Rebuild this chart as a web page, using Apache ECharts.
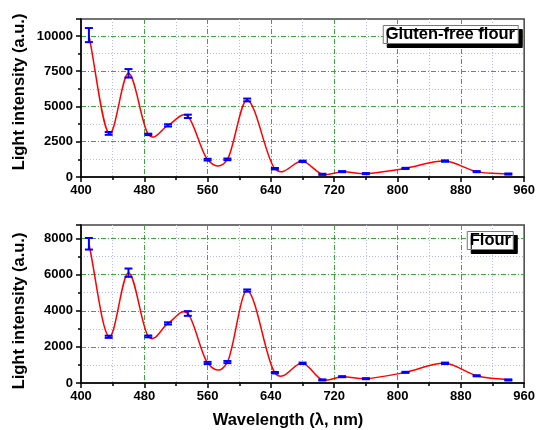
<!DOCTYPE html>
<html><head><meta charset="utf-8">
<script src="https://cdn.jsdelivr.net/npm/echarts@6/dist/echarts.min.js"></script>
<style>html,body{margin:0;padding:0;background:#fff}#c{width:538px;height:430px}</style>
</head><body><div id="c"></div>
<script>
var wavelengths = [410,435,460,485,510,535,560,585,610,645,680,705,730,760,810,860,900,940];
var glutenFreeMean = [10060,3090,7350,3020,3660,4300,1230,1250,5460,590,1110,190,380,240,610,1130,380,210];
var glutenFreeErr  = [500,100,300,50,80,120,60,60,100,50,50,40,40,40,40,50,40,40];
var flourMean = [7710,2560,6110,2580,3300,3850,1110,1160,5120,570,1090,170,350,240,590,1090,400,170];
var flourErr  = [320,60,230,50,60,130,60,60,60,40,40,30,30,30,30,40,30,30];
var xTicks = [400,480,560,640,720,800,880,960];
var yTicksTop = [0,2500,5000,7500,10000];
var yTicksBottom = [0,2000,4000,6000,8000];
var panelLabels = ['Gluten-free flour','Flour'];
var xTitle = 'Wavelength (\u03bb, nm)';
var yTitle = 'Light intensity (a.u.)';

var FONT = '"Liberation Sans", Arial, sans-serif';
var chart = echarts.init(document.getElementById('c'));

// Catmull-Rom style tangents (used only to shape the drawn curve between the data points)
function curveSlopes(xs, ys){
  var n = xs.length, m = [];
  for(var i=0;i<n;i++){
    if(i===0) m.push((ys[1]-ys[0])/(xs[1]-xs[0]));
    else if(i===n-1) m.push((ys[n-1]-ys[n-2])/(xs[n-1]-xs[n-2]));
    else m.push((ys[i+1]-ys[i-1])/(xs[i+1]-xs[i-1]));
  }
  return m;
}

function makeCurveRender(means){
  var slopes = curveSlopes(wavelengths, means);
  return function(params, api){
    var i = params.dataIndex;
    if(i >= wavelengths.length-1) return null;
    var x0=wavelengths[i], x1=wavelengths[i+1], y0=means[i], y1=means[i+1], h=x1-x0;
    var p0=api.coord([x0,y0]), p3=api.coord([x1,y1]);
    var p1=api.coord([x0+h/3, y0+h*slopes[i]/3]);
    var p2=api.coord([x1-h/3, y1-h*slopes[i+1]/3]);
    return {type:'bezierCurve', shape:{x1:p0[0],y1:p0[1],x2:p3[0],y2:p3[1],cpx1:p1[0],cpy1:p1[1],cpx2:p2[0],cpy2:p2[1]},
      style:{stroke:'#ff0000', lineWidth:1.5, fill:null}};
  };
}

function lineData(means){ return wavelengths.map(function(w,i){return [w, means[i]];}); }
function errData(means, errs){ return wavelengths.map(function(w,i){return [w, means[i]-errs[i], means[i]+errs[i]];}); }

function errRender(params, api){
  var x = api.value(0), lo = api.value(1), hi = api.value(2);
  var pLo = api.coord([x, lo]), pHi = api.coord([x, hi]);
  var hw = 4;
  var st = {stroke:'#0000ff', lineWidth:2};
  return {type:'group', children:[
    {type:'line', shape:{x1:pLo[0], y1:pLo[1], x2:pHi[0], y2:pHi[1]}, style:st},
    {type:'line', shape:{x1:pLo[0]-hw, y1:pLo[1], x2:pLo[0]+hw, y2:pLo[1]}, style:st},
    {type:'line', shape:{x1:pHi[0]-hw, y1:pHi[1], x2:pHi[0]+hw, y2:pHi[1]}, style:st}
  ]};
}

function xAxisCfg(gi){
  return {
    type:'value', gridIndex:gi, min:xTicks[0], max:xTicks[xTicks.length-1], interval:80,
    axisLine:{show:true, onZero:false, lineStyle:{color:'#000', width:1.5}},
    axisTick:{show:true, length:5, lineStyle:{color:'#000', width:1.5}},
    minorTick:{show:true, splitNumber:2, length:3, lineStyle:{color:'#000', width:1.5}},
    axisLabel:{margin:7, color:'#000', fontFamily:FONT, fontWeight:'bold', fontSize:13, formatter:function(v){return String(v);}},
    splitLine:{show:true, showMinLine:false, showMaxLine:false, lineStyle:{color:'#3aa83a', width:1, type:[5,2,1,2]}},
    minorSplitLine:{show:true, lineStyle:{color:'#b8bcf4', width:1, type:[1,2]}}
  };
}
function yAxisCfg(gi, max, interval){
  return {
    type:'value', gridIndex:gi, min:0, max:max, interval:interval,
    axisLine:{show:true, onZero:false, lineStyle:{color:'#000', width:1.5}},
    axisTick:{show:true, length:5, lineStyle:{color:'#000', width:1.5}},
    minorTick:{show:true, splitNumber:2, length:3, lineStyle:{color:'#000', width:1.5}},
    axisLabel:{margin:8, color:'#000', fontFamily:FONT, fontWeight:'bold', fontSize:13, showMaxLabel:false,
      formatter:function(v){return String(v);}},
    splitLine:{show:true, showMinLine:false, showMaxLine:false, lineStyle:{color:'#3aa83a', width:1, type:[5,2,1,2]}},
    minorSplitLine:{show:true, lineStyle:{color:'#b8bcf4', width:1, type:[1,2]}}
  };
}

function titleText(txt, x, y, rot){
  return {type:'text', x:x, y:y, rotation:rot, silent:true,
    style:{text:txt, fill:'#000', font:'bold 16.5px ' + FONT, align:'center', verticalAlign:'middle',
           textAlign:'center', textVerticalAlign:'middle'}};
}

var option = {
  animation:false,
  backgroundColor:'#fff',
  title:[
    {text:panelLabels[0], right:20, top:25, padding:[1,3,1,3], backgroundColor:'#fff', borderColor:'#777', borderWidth:1,
     shadowColor:'#000', shadowOffsetX:4, shadowOffsetY:4, shadowBlur:0,
     textStyle:{color:'#000', fontFamily:FONT, fontWeight:'bold', fontSize:16.5, lineHeight:17}},
    {text:panelLabels[1], right:24, top:231, padding:[1,3,1,3], backgroundColor:'#fff', borderColor:'#777', borderWidth:1,
     shadowColor:'#000', shadowOffsetX:4, shadowOffsetY:4, shadowBlur:0,
     textStyle:{color:'#000', fontFamily:FONT, fontWeight:'bold', fontSize:16.5, lineHeight:17}}
  ],
  graphic:[
    titleText(yTitle, 19, 92, Math.PI/2),
    titleText(yTitle, 19, 311, Math.PI/2),
    titleText(xTitle, 288, 420, 0)
  ],
  grid:[
    {left:81, top:19, width:446, height:158, show:true, borderColor:'#444', borderWidth:1.5, backgroundColor:'transparent'},
    {left:81, top:225, width:446, height:158, show:true, borderColor:'#444', borderWidth:1.5, backgroundColor:'transparent'}
  ],
  xAxis:[xAxisCfg(0), xAxisCfg(1)],
  yAxis:[yAxisCfg(0,11200,2500), yAxisCfg(1,8750,2000)],
  series:[
    {type:'custom', xAxisIndex:0, yAxisIndex:0, data:lineData(glutenFreeMean), renderItem:makeCurveRender(glutenFreeMean), z:3},
    {type:'custom', xAxisIndex:0, yAxisIndex:0, data:errData(glutenFreeMean, glutenFreeErr), renderItem:errRender, z:4},
    {type:'custom', xAxisIndex:1, yAxisIndex:1, data:lineData(flourMean), renderItem:makeCurveRender(flourMean), z:3},
    {type:'custom', xAxisIndex:1, yAxisIndex:1, data:errData(flourMean, flourErr), renderItem:errRender, z:4}
  ]
};
chart.setOption(option);
</script>
</body></html>
